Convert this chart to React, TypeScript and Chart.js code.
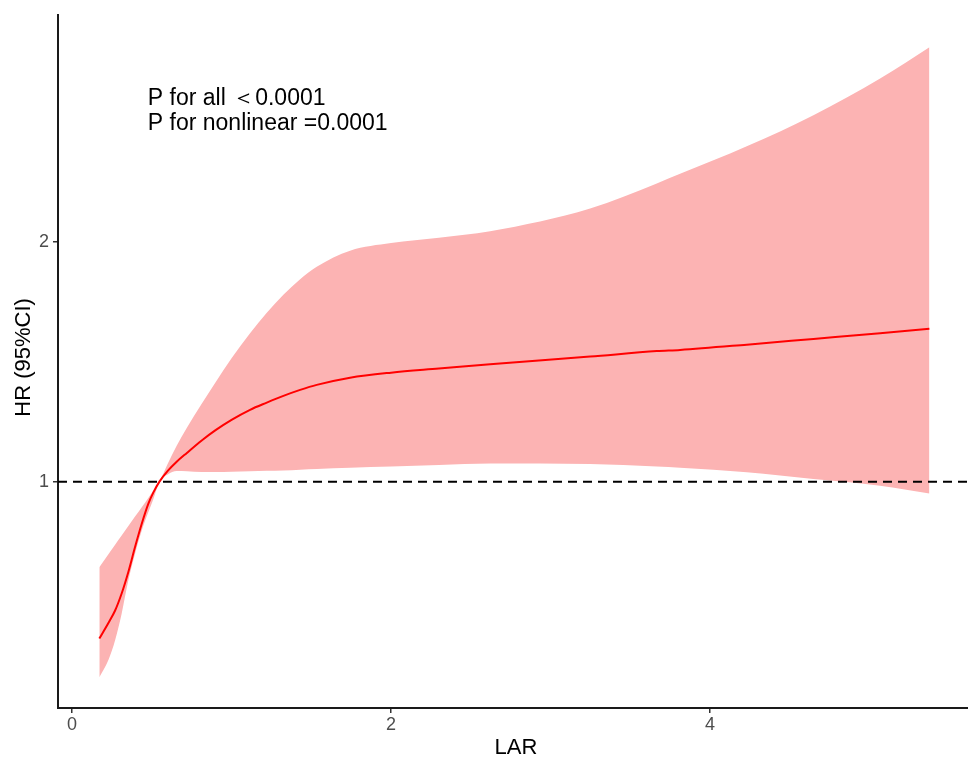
import React, { useEffect, useRef } from "react";
import { Chart, registerables } from "chart.js";

Chart.register(...registerables);

// LAR values (x) shared by all series
const larValues = [0.171, 0.228, 0.27, 0.311, 0.353, 0.395, 0.437, 0.478, 0.51, 0.548, 0.6, 0.656, 0.72, 0.813, 0.9, 1.0, 1.116, 1.221, 1.325, 1.43, 1.534, 1.743, 2.0, 2.3, 2.621, 3.248, 3.666, 3.812, 4.23, 4.648, 5.066, 5.375];
// Hazard ratio estimate
const hrValues = [0.345, 0.41, 0.462, 0.533, 0.623, 0.727, 0.824, 0.907, 0.955, 1.0, 1.045, 1.083, 1.12, 1.172, 1.215, 1.258, 1.3, 1.33, 1.358, 1.383, 1.404, 1.434, 1.455, 1.472, 1.49, 1.522, 1.545, 1.55, 1.572, 1.596, 1.62, 1.638];
// Upper 95% CI
const upperValues = [0.643, 0.697, 0.737, 0.775, 0.815, 0.854, 0.893, 0.932, 0.962, 1.0, 1.075, 1.15, 1.225, 1.325, 1.415, 1.515, 1.62, 1.705, 1.78, 1.845, 1.897, 1.964, 1.996, 2.018, 2.045, 2.14, 2.245, 2.285, 2.4, 2.53, 2.683, 2.814];
// Lower 95% CI
const lowerValues = [0.183, 0.255, 0.338, 0.449, 0.588, 0.699, 0.796, 0.872, 0.928, 1.0, 1.03, 1.044, 1.043, 1.04, 1.04, 1.041, 1.043, 1.045, 1.047, 1.05, 1.053, 1.058, 1.063, 1.07, 1.076, 1.074, 1.063, 1.058, 1.039, 1.011, 0.983, 0.951];

const xTicks = [0, 2, 4];
const yTicks = [1, 2];
const xRange = [-0.088, 5.617];
const yRange = [0.055, 2.949];
const referenceHR = 1;

const xTitle = "LAR";
const yTitle = "HR (95%CI)";
const annotationLines = ["P for all \uFF1C0.0001", "P for nonlinear =0.0001"];
const annotationPos = { x: 0.475, y1: 2.574, y2: 2.468 };

const FONT = "'Liberation Sans', Arial, Helvetica, sans-serif";

const textPlugin = {
  id: "textPlugin",
  afterDraw(chart: any) {
    const ctx = chart.ctx;
    const xs = chart.scales.x;
    const ys = chart.scales.y;
    const area = chart.chartArea;
    ctx.save();
    ctx.fillStyle = "#000";
    ctx.font = `23px ${FONT}`;
    ctx.textAlign = "left";
    ctx.textBaseline = "alphabetic";
    const ax = xs.getPixelForValue(annotationPos.x);
    ctx.fillText(annotationLines[0], ax, ys.getPixelForValue(annotationPos.y1));
    ctx.fillText(annotationLines[1], ax, ys.getPixelForValue(annotationPos.y2));

    // axis titles
    ctx.font = `22px ${FONT}`;
    ctx.textAlign = "center";
    ctx.textBaseline = "middle";
    ctx.fillText(xTitle, (area.left + area.right) / 2 + 3, 748);
    ctx.translate(24, (area.top + area.bottom) / 2 - 4);
    ctx.rotate(-Math.PI / 2);
    ctx.fillText(yTitle, 0, 0);
    ctx.restore();
  },
};

export default function App() {
  const canvasRef = useRef<HTMLCanvasElement | null>(null);

  useEffect(() => {
    if (!canvasRef.current) return;
    const pts = (ys: number[]) => larValues.map((x, i) => ({ x, y: ys[i] }));
    const chart = new Chart(canvasRef.current, {
      type: "scatter",
      data: {
        datasets: [
          {
            label: "ref",
            data: [
              { x: xRange[0], y: referenceHR },
              { x: xRange[1], y: referenceHR },
            ],
            showLine: true,
            borderColor: "#000",
            borderWidth: 2,
            borderDash: [9, 6],
            pointRadius: 0,
            order: 0,
          },
          {
            label: "HR",
            data: pts(hrValues),
            showLine: true,
            borderColor: "#ff0000",
            borderWidth: 2,
            pointRadius: 0,
            cubicInterpolationMode: "monotone",
            order: 1,
          },
          {
            label: "upper",
            data: pts(upperValues),
            showLine: true,
            borderWidth: 0,
            borderColor: "rgba(0,0,0,0)",
            backgroundColor: "rgb(252,179,179)",
            pointRadius: 0,
            cubicInterpolationMode: "monotone",
            fill: "+1",
            order: 2,
          },
          {
            label: "lower",
            data: pts(lowerValues),
            showLine: true,
            borderWidth: 0,
            borderColor: "rgba(0,0,0,0)",
            pointRadius: 0,
            cubicInterpolationMode: "monotone",
            fill: false,
            order: 3,
          },
        ],
      },
      options: {
        animation: false,
        responsive: false,
        maintainAspectRatio: false,
        layout: { padding: { top: 13, right: 0, left: 0, bottom: 0 } },
        plugins: {
          legend: { display: false },
          tooltip: { enabled: false },
        },
        scales: {
          x: {
            type: "linear",
            min: xRange[0],
            max: xRange[1],
            afterFit: (s: any) => {
              s.height = 57;
            },
            afterBuildTicks: (s: any) => {
              s.ticks = xTicks.map((v) => ({ value: v }));
            },
            border: { display: true, color: "#1a1a1a", width: 2 },
            grid: {
              drawOnChartArea: false,
              drawTicks: true,
              tickLength: 5,
              color: "#333",
              lineWidth: 1.5,
            },
            ticks: {
              color: "#4d4d4d",
              font: { family: FONT, size: 18 },
              padding: 1,
              callback: (v: any) => String(v),
            },
          },
          y: {
            type: "linear",
            min: yRange[0],
            max: yRange[1],
            afterFit: (s: any) => {
              s.width = 58;
            },
            afterBuildTicks: (s: any) => {
              s.ticks = yTicks.map((v) => ({ value: v }));
            },
            border: { display: true, color: "#1a1a1a", width: 2 },
            grid: {
              drawOnChartArea: false,
              drawTicks: true,
              tickLength: 5,
              color: "#333",
              lineWidth: 1.5,
            },
            ticks: {
              color: "#4d4d4d",
              font: { family: FONT, size: 18 },
              padding: 4,
              callback: (v: any) => String(v),
            },
          },
        },
      },
      plugins: [textPlugin],
    });
    return () => chart.destroy();
  }, []);

  return (
    <div style={{ position: "fixed", left: 0, top: 0, width: 968, height: 765, background: "#fff" }}>
      <canvas ref={canvasRef} width={968} height={765} />
    </div>
  );
}
